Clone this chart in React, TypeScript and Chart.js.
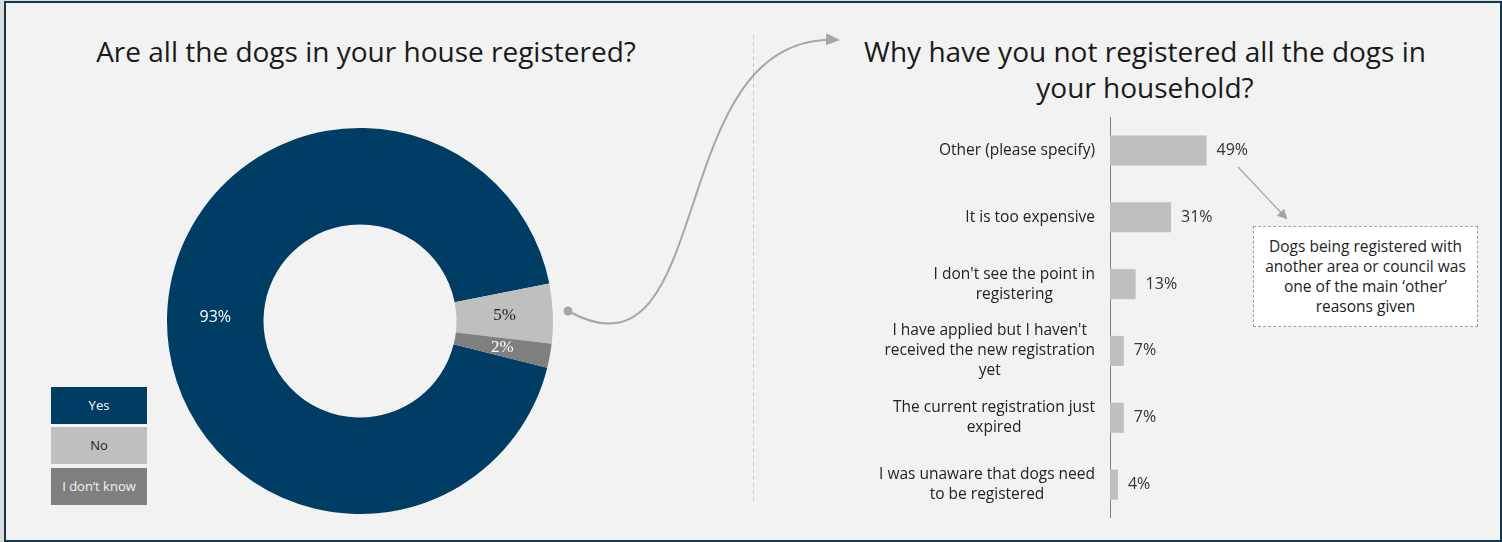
import React, { useEffect, useRef } from "react";
import { Chart, registerables } from "chart.js";

Chart.register(...registerables);

// ---------- Data ----------
const donutTitle = "Are all the dogs in your house registered?";
const pieLabels = ["Yes", "No", "I don’t know"];
const pieValues = [93, 5, 2];
const pieColors = ["#003d64", "#bfbfbf", "#7f7f7f"];
const pieTextColors = ["#ffffff", "#222222", "#ffffff"];
const legendTextColors = ["#ffffff", "#222222", "#f2f2f2"];

const barTitleLines = ["Why have you not registered all the dogs in", "your household?"];
const barCategories = [
  ["Other (please specify)"],
  ["It is too expensive"],
  ["I don't see the point in", "registering"],
  ["I have applied but I haven't", "received the new registration", "yet"],
  ["The current registration just", "expired"],
  ["I was unaware that dogs need", "to be registered"],
];
const barValues = [49, 31, 13, 7, 7, 4];
const noteLines = [
  "Dogs being registered with",
  "another area or council was",
  "one of the main ‘other’",
  "reasons given",
];

const FONT = "'Open Sans', 'Noto Sans', sans-serif";
const SERIF = "'Liberation Serif', 'DejaVu Serif', serif";
const pieLabelFonts = [`16px ${FONT}`, `17px ${SERIF}`, `17px ${SERIF}`];

const donutLabelPlugin = {
  id: "donutLabels",
  afterDatasetsDraw(chart: any) {
    const ctx = chart.ctx;
    const meta = chart.getDatasetMeta(0);
    const ds = chart.data.datasets[0];
    ctx.save();
    ctx.textAlign = "center";
    ctx.textBaseline = "middle";
    meta.data.forEach((arc: any, i: number) => {
      const p = arc.tooltipPosition(false);
      ctx.font = pieLabelFonts[i];
      ctx.fillStyle = pieTextColors[i];
      ctx.fillText(`${ds.data[i]}%`, p.x, p.y);
    });
    ctx.restore();
  },
};

const barValuePlugin = {
  id: "barValues",
  afterDatasetsDraw(chart: any) {
    const ctx = chart.ctx;
    const meta = chart.getDatasetMeta(0);
    const ds = chart.data.datasets[0];
    ctx.save();
    ctx.textAlign = "left";
    ctx.textBaseline = "middle";
    ctx.font = `16px ${FONT}`;
    ctx.fillStyle = "#333333";
    meta.data.forEach((bar: any, i: number) => {
      ctx.fillText(`${ds.data[i]}%`, bar.x + 10, bar.y);
    });
    ctx.restore();
  },
};

// y-axis category labels: block right-aligned to the axis, lines centred within the block
const categoryLabelPlugin = {
  id: "categoryLabels",
  afterDraw(chart: any) {
    const ctx = chart.ctx;
    const scale = chart.scales.y;
    const labels = chart.data.labels as string[][];
    const lh = 20;
    ctx.save();
    ctx.font = `15.5px ${FONT}`;
    ctx.fillStyle = "#222222";
    ctx.textAlign = "center";
    ctx.textBaseline = "middle";
    labels.forEach((lines, i) => {
      const y = scale.getPixelForTick(i);
      const w = Math.max(...lines.map((l) => ctx.measureText(l).width));
      const cx = scale.right - 15 - w / 2;
      const y0 = y - ((lines.length - 1) * lh) / 2;
      lines.forEach((l, j) => ctx.fillText(l, cx, y0 + j * lh));
    });
    ctx.restore();
  },
};

function DonutChart() {
  const ref = useRef<HTMLCanvasElement>(null);
  useEffect(() => {
    if (!ref.current) return;
    const chart = new Chart(ref.current, {
      type: "doughnut",
      data: {
        labels: pieLabels,
        datasets: [
          {
            data: pieValues,
            backgroundColor: pieColors,
            borderWidth: 0,
          },
        ],
      },
      options: {
        animation: false,
        responsive: false,
        maintainAspectRatio: false,
        cutout: "50%",
        rotation: 104,
        layout: { padding: 0 },
        plugins: { legend: { display: false }, tooltip: { enabled: false } },
      },
      plugins: [donutLabelPlugin],
    });
    return () => chart.destroy();
  }, []);
  return (
    <canvas
      ref={ref}
      width={386}
      height={386}
      style={{ position: "absolute", left: 167, top: 128, width: 386, height: 386 }}
    />
  );
}

function BarChart() {
  const ref = useRef<HTMLCanvasElement>(null);
  useEffect(() => {
    if (!ref.current) return;
    const chart = new Chart(ref.current, {
      type: "bar",
      data: {
        labels: barCategories,
        datasets: [
          {
            data: barValues,
            backgroundColor: "#bfbfbf",
            borderWidth: 0,
            barPercentage: 0.45,
            categoryPercentage: 1,
          },
        ],
      },
      options: {
        animation: false,
        responsive: false,
        maintainAspectRatio: false,
        indexAxis: "y",
        layout: { padding: 0 },
        plugins: { legend: { display: false }, tooltip: { enabled: false } },
        scales: {
          x: { display: false, min: 0, max: 100 },
          y: {
            afterFit(scale: any) {
              scale.width = 346;
              scale.paddingTop = 0;
              scale.paddingBottom = 0;
            },
            grid: { display: false, drawTicks: false, tickLength: 0 },
            border: { display: true, color: "#7f7f7f", width: 1 },
            ticks: { display: false },
          },
        },
      },
      plugins: [barValuePlugin, categoryLabelPlugin],
    });
    return () => chart.destroy();
  }, []);
  return (
    <canvas
      ref={ref}
      width={543}
      height={401}
      style={{ position: "absolute", left: 764, top: 117, width: 543, height: 401 }}
    />
  );
}

export default function App() {
  return (
    <div
      style={{
        position: "absolute",
        left: 0,
        top: 0,
        width: 1502,
        height: 542,
        background: "#dcdcdc",
        overflow: "hidden",
        fontFamily: FONT,
      }}
    >
      <div
        style={{
          position: "absolute",
          left: 4,
          top: 1,
          width: 1498,
          height: 541,
          boxSizing: "border-box",
          border: "2px solid #15374f",
          background: "#f2f2f2",
        }}
      />
      <div
        style={{
          position: "absolute",
          left: 46,
          top: 33,
          width: 640,
          textAlign: "center",
          fontSize: 28,
          color: "#1a1a1a",
          lineHeight: "36px",
        }}
      >
        {donutTitle}
      </div>
      <div
        style={{
          position: "absolute",
          left: 815,
          top: 33,
          width: 660,
          textAlign: "center",
          fontSize: 28,
          color: "#1a1a1a",
          lineHeight: "36px",
        }}
      >
        {barTitleLines.map((l, i) => (
          <div key={i}>{l}</div>
        ))}
      </div>

      {pieLabels.map((l, i) => (
        <div
          key={l}
          style={{
            position: "absolute",
            left: 51,
            top: [387, 427, 468][i],
            width: 96,
            height: 37,
            background: pieColors[i],
            color: legendTextColors[i],
            fontSize: 13,
            lineHeight: "37px",
            textAlign: "center",
          }}
        >
          {l}
        </div>
      ))}

      <DonutChart />
      <BarChart />

      <svg
        width={1502}
        height={542}
        style={{ position: "absolute", left: 0, top: 0, pointerEvents: "none" }}
      >
        <defs>
          <marker id="ah" markerWidth="10" markerHeight="10" refX="8" refY="5" orient="auto" markerUnits="userSpaceOnUse">
            <path d="M0,0 L10,5 L0,10 z" fill="#a6a6a6" />
          </marker>
          <marker id="ah2" markerWidth="14" markerHeight="12" refX="12" refY="6" orient="auto" markerUnits="userSpaceOnUse">
            <path d="M0,0 L14,6 L0,12 z" fill="#a6a6a6" />
          </marker>
        </defs>
        <line x1={753.5} y1={35} x2={753.5} y2={502} stroke="#cccccc" strokeWidth={1} strokeDasharray="4 3" />
        <path d="M568,311 C720,395 660,30 838,40" fill="none" stroke="#a6a6a6" strokeWidth={2} markerEnd="url(#ah2)" />
        <circle cx={568} cy={311} r={4.5} fill="#a6a6a6" />
        <line x1={1238} y1={167} x2={1286} y2={218} stroke="#a6a6a6" strokeWidth={1.2} markerEnd="url(#ah)" />
      </svg>

      <div
        style={{
          position: "absolute",
          left: 1253,
          top: 226,
          width: 225,
          height: 101,
          boxSizing: "border-box",
          border: "1.5px dashed #a0a0a0",
          background: "#ffffff",
          color: "#222222",
          fontSize: 15.5,
          lineHeight: "20px",
          textAlign: "center",
          paddingTop: 9,
        }}
      >
        {noteLines.map((l, i) => (
          <div key={i}>{l}</div>
        ))}
      </div>
    </div>
  );
}
